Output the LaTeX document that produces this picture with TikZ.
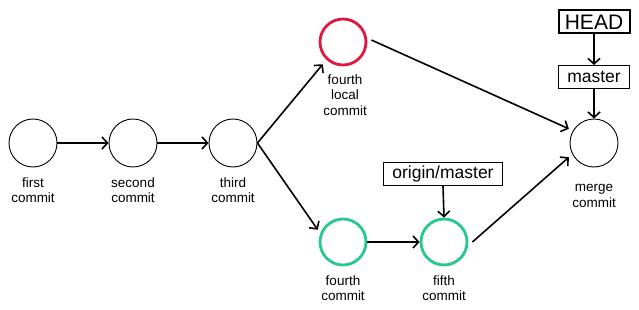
\documentclass[tikz,border=0pt]{standalone}
\usepackage{fontspec}
\setmainfont{Liberation Sans}
\usetikzlibrary{arrows.meta}
\definecolor{cred}{RGB}{222,24,64}
\definecolor{cgreen}{RGB}{38,200,140}
\tikzset{
  commit/.style={circle,draw=black,line width=0.9pt,minimum size=48pt,inner sep=0pt},
  redc/.style={commit,draw=cred,line width=2.8pt,minimum size=46pt},
  greenc/.style={commit,draw=cgreen,line width=2.8pt,minimum size=46pt},
  lbl/.style={align=center,font=\fontsize{13.5}{15.5}\selectfont,inner sep=0pt},
  ref/.style={draw=black,line width=1pt,minimum width=71pt,minimum height=23pt,inner sep=1pt,font=\fontsize{17.5}{20}\selectfont},
  headbox/.style={ref,line width=2pt,font=\fontsize{21}{24}\selectfont},
  arr/.style={line width=1.6pt,-{Straight Barb[length=5.5pt,width=12pt]}}
}
\begin{document}
\begin{tikzpicture}[x=1pt,y=-1pt]
\useasboundingbox (0,0) rectangle (639,310);
\node[commit] (c1) at (33,143) {};
\node[commit] (c2) at (133,143) {};
\node[commit] (c3) at (233,143) {};
\node[redc] (c4l) at (343,42) {};
\node[greenc] (c4) at (343,242) {};
\node[greenc] (c5) at (444,242) {};
\node[commit] (cm) at (594,143) {};
\node[lbl] (l1) at (33,190) {first\\commit};
\node[lbl] (l2) at (133,190) {second\\commit};
\node[lbl] (l3) at (233,190) {third\\commit};
\node[lbl] (l4l) at (345,95) {fourth\\local\\commit};
\node[lbl] (l4) at (343,288) {fourth\\commit};
\node[lbl] (l5) at (444,288) {fifth\\commit};
\node[lbl] (lm) at (594,196) {merge\\commit};
\node[headbox] (head) at (594,22) {HEAD};
\node[ref] (master) at (594,77) {master};
\node[ref,minimum width=119pt] (om) at (443,174) {origin/master};
\draw[arr] (c1.east) -- (c2.west);
\draw[arr] (c2.east) -- (c3.west);
\draw[arr] (c3.east) -- ([shift={(-3,5)}]c4l.south west);
\draw[arr] (c3.east) -- ([shift={(-8,5)}]c4.north west);
\draw[arr] ([shift={(4,-2)}]c4l.east) -- ([shift={(-4,-2)}]cm.150);
\draw[arr] (c4.east) -- (c5.west);
\draw[arr] ([shift={(4,0)}]c5.east) -- ([shift={(-4,2)}]cm.210);
\draw[arr] (head.south) -- (master.north);
\draw[arr] (master.south) -- (cm.north);
\draw[arr] (om.south) -- (c5.north);
\end{tikzpicture}
\end{document}
